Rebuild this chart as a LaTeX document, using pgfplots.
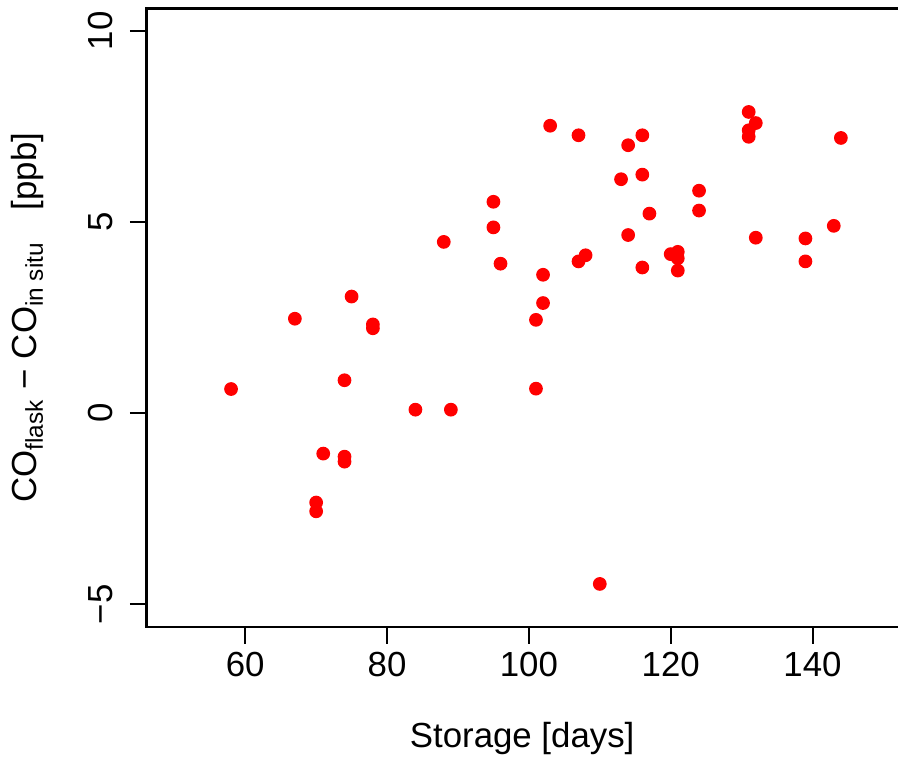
\documentclass[border=0pt]{standalone}
\usepackage{fontspec}
\setmainfont{Liberation Sans}
\usepackage{pgfplots}
\pgfplotsset{compat=1.18}
\begin{document}
\fontsize{10.4}{12.5}\selectfont
\begin{tikzpicture}
\begin{axis}[
  scale only axis,
  width=224.4pt, height=184.7pt,
  xmin=46.08, xmax=152.03,
  ymin=-5.595, ymax=10.586,
  axis line style={draw=none},
  xtick={60,80,100,120,140},
  xticklabels={60,80,100,120,140},
  ytick={-5,0,5,10},
  yticklabels={−5,0,5,10},
  tick align=outside,
  major tick length=5pt,
  tick style={black, line width=0.6pt},
  xtick pos=bottom, ytick pos=left,
  yticklabel style={rotate=90, anchor=south},
  yticklabel shift=1.5pt,
  xticklabel shift=-1pt,
  xticklabel style={anchor=north},
  xlabel={Storage [days]},
  ylabel={CO\textsubscript{flask} − CO\textsubscript{in situ}\hspace{0.9em}[ppb]},
  xlabel style={at={(axis description cs:0.5,-0.18)}, anchor=center},
  ylabel style={at={(axis description cs:-0.158,0.5)}, anchor=center, rotate=0},
  clip=false,
]
\addplot[only marks, mark=*, mark size=1.85pt, color=red, mark options={draw=red, fill=red}] coordinates {
(58,0.63) (67,2.47) (70,-2.34) (70,-2.57) (71,-1.06) (74,-1.14) (74,-1.27)
(74,0.86) (75,3.05) (78,2.32) (78,2.22) (84,0.09) (88,4.48) (89,0.09)
(95,5.53) (95,4.86) (96,3.91) (101,2.44) (101,0.64) (102,3.62) (102,2.88)
(103,7.52) (107,7.27) (107,3.97) (108,4.13) (110,-4.47) (113,6.12) (114,7.01)
(114,4.66) (116,7.27) (116,6.24) (116,3.81) (117,5.22) (120,4.16) (121,4.22)
(121,4.05) (121,3.73) (124,5.82) (124,5.30) (131,7.88) (131,7.40) (131,7.23)
(132,7.59) (132,4.59) (139,4.57) (139,3.97) (143,4.90) (144,7.20)
};
\draw[black, line width=0.7pt] (rel axis cs:1,0) -- (rel axis cs:0,0) -- (rel axis cs:0,1) -- (rel axis cs:1,1);
\end{axis}
\end{tikzpicture}
\end{document}
